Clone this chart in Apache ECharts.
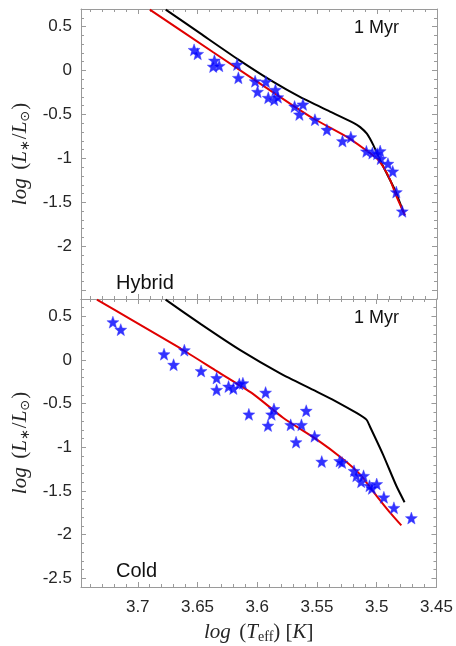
<!DOCTYPE html>
<html><head><meta charset="utf-8">
<script src="https://cdn.jsdelivr.net/npm/echarts@6/dist/echarts.min.js"></script>
<style>html,body{margin:0;padding:0;background:#fff}#c{width:456px;height:646px}</style>
</head><body><div id="c"></div>
<script>
// ---- tick labels / ranges ----
const xTickLabels = [3.7, 3.65, 3.6, 3.55, 3.5, 3.45];
const yTickLabelsTop = [0.5, 0, -0.5, -1, -1.5, -2];
const yTickLabelsBottom = [0.5, 0, -0.5, -1, -1.5, -2, -2.5];
const xRange = [3.45, 3.7475];
const yRange = [-2.6, 0.7];
const panelNames = ['Hybrid', 'Cold'];
const ageLabel = '1 Myr';

// ---- Hybrid panel: observed stars ----
const hybridStarX = [3.653, 3.650, 3.636, 3.637, 3.632, 3.617, 3.616, 3.602, 3.593, 3.600,
  3.585, 3.591, 3.586, 3.583, 3.569, 3.562, 3.565, 3.552, 3.542, 3.529,
  3.522, 3.509, 3.504, 3.4975, 3.500, 3.497, 3.491, 3.487, 3.484, 3.479];
const hybridStarY = [0.235, 0.19, 0.114, 0.045, 0.053, 0.068, -0.083, -0.122, -0.128, -0.242,
  -0.219, -0.310, -0.333, -0.303, -0.409, -0.386, -0.50, -0.560, -0.674, -0.803,
  -0.758, -0.920, -0.940, -0.917, -0.947, -1.003, -1.060, -1.148, -1.383, -1.602];
// Hybrid panel: red track
const hybridRedX = [3.690, 3.637, 3.5725, 3.553, 3.525, 3.511, 3.500, 3.4948, 3.489, 3.4836, 3.4767];
const hybridRedY = [0.693, 0.208, -0.379, -0.549, -0.758, -0.890, -1.003, -1.099, -1.25, -1.44, -1.648];
// Hybrid panel: black track
const hybridBlackX = [3.6767, 3.6475, 3.6169, 3.5864, 3.5642, 3.5419, 3.5198, 3.5142, 3.5086, 3.5031, 3.4975, 3.4919, 3.485, 3.4781];
const hybridBlackY = [0.693, 0.419, 0.133, -0.133, -0.303, -0.451, -0.595, -0.644, -0.719, -0.852, -1.023, -1.174, -1.364, -1.610];

// ---- Cold panel: observed stars ----
const coldStarX = [3.7208, 3.7142, 3.678, 3.661, 3.670, 3.647, 3.634, 3.634, 3.624, 3.620,
  3.615, 3.612, 3.593, 3.607, 3.586, 3.588, 3.591, 3.559, 3.572, 3.563,
  3.5675, 3.552, 3.546, 3.531, 3.529, 3.519, 3.517, 3.511, 3.513, 3.506,
  3.504, 3.500, 3.494, 3.4856, 3.471];
const coldStarY = [0.435, 0.349, 0.068, 0.114, -0.053, -0.125, -0.205, -0.341, -0.303, -0.326,
  -0.273, -0.265, -0.372, -0.622, -0.560, -0.622, -0.75, -0.580, -0.742, -0.742,
  -0.940, -0.872, -1.163, -1.156, -1.174, -1.269, -1.326, -1.326, -1.394, -1.44,
  -1.47, -1.42, -1.572, -1.693, -1.81];
// Cold panel: red track
const coldRedX = [3.7342, 3.7058, 3.6642, 3.635, 3.6044, 3.5781, 3.5503, 3.5281, 3.5142, 3.5003, 3.4892, 3.4794];
const coldRedY = [0.693, 0.466, 0.133, -0.117, -0.378, -0.663, -0.909, -1.136, -1.307, -1.553, -1.742, -1.894];
// Cold panel: black track
const coldBlackX = [3.6767, 3.6475, 3.6142, 3.5808, 3.5531, 3.535, 3.5169, 3.5086, 3.5058, 3.4948, 3.4836, 3.4767];
const coldBlackY = [0.693, 0.415, 0.114, -0.151, -0.341, -0.466, -0.606, -0.682, -0.758, -1.08, -1.44, -1.628];

// ---- helpers ----
function pairs(xs, ys) { return xs.map((x, i) => [x, ys[i]]); }
function starPath() {
  let d = '';
  for (let i = 0; i < 10; i++) {
    const a = -Math.PI / 2 + i * Math.PI / 5;
    const r = (i % 2 === 0) ? 1 : 0.42;
    d += (i === 0 ? 'M' : 'L') + (r * Math.cos(a)).toFixed(4) + ' ' + (r * Math.sin(a)).toFixed(4) + ' ';
  }
  return 'path://' + d + 'Z';
}
function labelFrom(list) {
  return function (v) {
    for (const t of list) if (Math.abs(t - v) < 1e-6) return String(t);
    return '';
  };
}
const boxColor = '#9a9a9a';
const textColor = '#262626';
const labelFont = 'Liberation Sans, Arial, sans-serif';
const mathFont = 'Liberation Serif, DejaVu Serif, serif';

function xAx(grid, pos, showLabel, withName) {
  const ax = {
    gridIndex: grid, type: 'value', position: pos, min: xRange[0], max: xRange[1], inverse: true,
    splitNumber: 6,
    axisLine: { show: true, onZero: false, lineStyle: { color: boxColor, width: 1 } },
    axisTick: { show: true, inside: true, length: 5, lineStyle: { color: boxColor } },
    minorTick: { show: true, splitNumber: 5, length: 3, lineStyle: { color: boxColor } },
    splitLine: { show: false },
    axisLabel: { show: showLabel, formatter: labelFrom(xTickLabels), fontSize: 17, color: textColor, fontFamily: labelFont, margin: 12 }
  };
  if (withName) {
    ax.name = '{i|log} {n| (}{i|T}{s|eff}{n|) [}{i|K}{n|]}';
    ax.nameLocation = 'middle';
    ax.nameGap = 34;
    ax.nameTextStyle = {
      color: textColor,
      rich: {
        i: { fontFamily: mathFont, fontStyle: 'italic', fontSize: 21, color: textColor },
        n: { fontFamily: mathFont, fontSize: 21, color: textColor },
        s: { fontFamily: mathFont, fontSize: 14, color: textColor, padding: [9, 0, 0, 0] }
      }
    };
  }
  return ax;
}
function yAx(grid, pos, showLabel, labels, withName) {
  const ax = {
    gridIndex: grid, type: 'value', position: pos, min: yRange[0], max: yRange[1],
    splitNumber: 6,
    axisLine: { show: true, onZero: false, lineStyle: { color: boxColor, width: 1 } },
    axisTick: { show: true, inside: true, length: 5, lineStyle: { color: boxColor } },
    minorTick: { show: true, splitNumber: 5, length: 3, lineStyle: { color: boxColor } },
    splitLine: { show: false },
    axisLabel: { show: showLabel, formatter: labelFrom(labels), fontSize: 17, color: textColor, fontFamily: labelFont, margin: 9 }
  };
  if (withName) {
    ax.name = '{i|log} {n| (}{i|L}{s|∗}{n|/}{i|L}{s|⊙}{n|)}';
    ax.nameLocation = 'middle';
    ax.nameGap = 39;
    ax.nameRotate = 90;
    ax.nameTextStyle = {
      color: textColor,
      rich: {
        i: { fontFamily: mathFont, fontStyle: 'italic', fontSize: 21, color: textColor },
        n: { fontFamily: mathFont, fontSize: 21, color: textColor },
        s: { fontFamily: 'DejaVu Sans, sans-serif', fontSize: 13, color: textColor, padding: [9, 1, 0, 0] }
      }
    };
  }
  return ax;
}

const star = starPath();
function lineSeries(xi, yi, data, color) {
  return { type: 'line', xAxisIndex: xi, yAxisIndex: yi, data: data, showSymbol: false, symbol: 'none',
    smooth: 0.2, lineStyle: { color: color, width: 2 }, clip: true, z: 2, silent: true, animation: false };
}
function starSeries(xi, yi, data) {
  return { type: 'scatter', xAxisIndex: xi, yAxisIndex: yi, data: data, symbol: star, symbolSize: 12,
    itemStyle: { color: '#0000ff', borderColor: '#3a3aff', borderWidth: 0.5 }, z: 3, silent: true, animation: false };
}

const option = {
  backgroundColor: '#fff',
  animation: false,
  grid: [
    { left: 81, top: 9, width: 356, height: 290 },
    { left: 81, top: 299, width: 356, height: 288 }
  ],
  xAxis: [
    xAx(0, 'bottom', false, false),
    xAx(0, 'top', false, false),
    xAx(1, 'bottom', true, true),
    xAx(1, 'top', false, false)
  ],
  yAxis: [
    yAx(0, 'left', true, yTickLabelsTop, true),
    yAx(0, 'right', false, yTickLabelsTop, false),
    yAx(1, 'left', true, yTickLabelsBottom, true),
    yAx(1, 'right', false, yTickLabelsBottom, false)
  ],
  series: [
    lineSeries(0, 0, pairs(hybridBlackX, hybridBlackY), '#000000'),
    lineSeries(0, 0, pairs(hybridRedX, hybridRedY), '#e00000'),
    starSeries(0, 0, pairs(hybridStarX, hybridStarY)),
    lineSeries(2, 2, pairs(coldBlackX, coldBlackY), '#000000'),
    lineSeries(2, 2, pairs(coldRedX, coldRedY), '#e00000'),
    starSeries(2, 2, pairs(coldStarX, coldStarY))
  ],
  graphic: [
    { type: 'text', left: 354, top: 19, style: { text: ageLabel, fontSize: 18, fontFamily: labelFont, fill: '#111' } },
    { type: 'text', left: 354, top: 309, style: { text: ageLabel, fontSize: 18, fontFamily: labelFont, fill: '#111' } },
    { type: 'text', left: 116, top: 273, style: { text: panelNames[0], fontSize: 20, fontFamily: labelFont, fill: '#111' } },
    { type: 'text', left: 116, top: 561, style: { text: panelNames[1], fontSize: 20, fontFamily: labelFont, fill: '#111' } }
  ]
};
const chart = echarts.init(document.getElementById('c'), null, { renderer: 'canvas' });
chart.setOption(option);
</script>
</body></html>
